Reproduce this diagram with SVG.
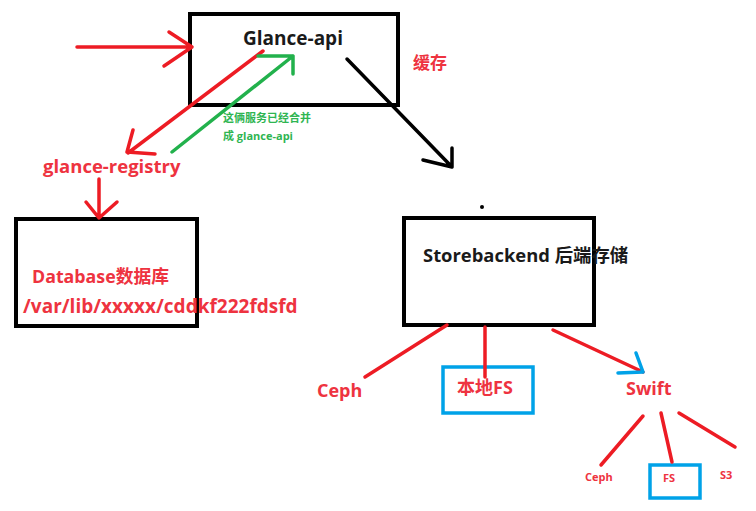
<svg xmlns="http://www.w3.org/2000/svg" width="756" height="511" viewBox="0 0 756 511">
<style>
.box{fill:none;stroke:#000;stroke-width:4}
.bbox{fill:none;stroke:#00a2e8;stroke-width:3.5}
.r{fill:none;stroke:#ed1c24;stroke-width:3.5;stroke-linecap:round;stroke-linejoin:round}
.g{fill:none;stroke:#22b14c;stroke-width:3.5;stroke-linecap:round;stroke-linejoin:round}
.k{fill:none;stroke:#000;stroke-width:3.5;stroke-linecap:round;stroke-linejoin:round}
.bl{fill:none;stroke:#00a2e8;stroke-width:3.5;stroke-linecap:round;stroke-linejoin:round}
text{font-family:"Open Sans","Noto Sans CJK SC",sans-serif;font-weight:bold}
.tk{fill:#1a1a1a}
.tr{fill:#ee3340}
.tg{fill:#2fb552}
</style>
<rect width="756" height="511" fill="#fff"/>
<g id="glance-api">
<rect class="box" x="190" y="14" width="208" height="91"/>
<text class="tk" x="243" y="45" font-size="19">Glance-api</text>
</g>
<g id="cache-label">
<text class="tr" x="413" y="69" font-size="17">缓存</text>
</g>
<g id="glance-registry">
<text class="tr" x="43" y="173" font-size="18.5">glance-registry</text>
</g>
<g id="merge-note">
<text class="tg" x="223" y="122" font-size="11">这俩服务已经合并</text>
<text class="tg" x="223" y="140" font-size="11">成 glance-api</text>
</g>
<g id="database">
<rect class="box" x="16" y="219" width="181" height="107"/>
<text class="tr" x="32" y="283" font-size="17.8">Database数据库</text>
<text class="tr" x="23" y="313" font-size="19">/var/lib/xxxxx/cddkf222fdsfd</text>
</g>
<g id="storebackend">
<rect class="box" x="404" y="218" width="190" height="107"/>
<text class="tk" x="423" y="262" font-size="18.4">Storebackend 后端存储</text>
</g>
<g id="dot"><circle cx="482" cy="207" r="2" fill="#000"/></g>
<g id="ceph">
<text class="tr" x="317" y="397" font-size="18">Ceph</text>
</g>
<g id="local-fs">
<rect class="bbox" x="443" y="367" width="90" height="46"/>
<text class="tr" x="457" y="394" font-size="18">本地FS</text>
</g>
<g id="swift">
<text class="tr" x="626" y="395" font-size="18">Swift</text>
</g>
<g id="swift-ceph">
<text class="tr" x="585" y="481" font-size="11">Ceph</text>
</g>
<g id="swift-fs">
<rect class="bbox" x="650" y="465" width="50" height="33"/>
<text class="tr" x="663" y="482" font-size="11">FS</text>
</g>
<g id="swift-s3">
<text class="tr" x="720" y="479" font-size="11">S3</text>
</g>
<g id="connectors">
<path class="r" d="M77 47 L192 47 M169 32 L192 47 L164 66"/>
<path class="r" d="M263 51 L128 153 M133 130 L127 152 L155 154"/>
<path class="g" d="M172 152 L293 56 M258 56 L293 56 L293 74"/>
<path class="k" d="M347 59 L452 167 M423 160 L452 167 L452 148"/>
<path class="r" d="M99 179 L99 218 M86 202 L99 218 L117 202"/>
<path class="r" d="M447 325 L365 377"/>
<path class="r" d="M485 327 L485 377"/>
<path class="r" d="M553 330 L643 372"/>
<path class="bl" d="M636 353 L643 372 L618 373"/>
<path class="r" d="M643 416 L601 465"/>
<path class="r" d="M661 413 L672 462"/>
<path class="r" d="M679 413 L735 447"/>
</g>
</svg>
